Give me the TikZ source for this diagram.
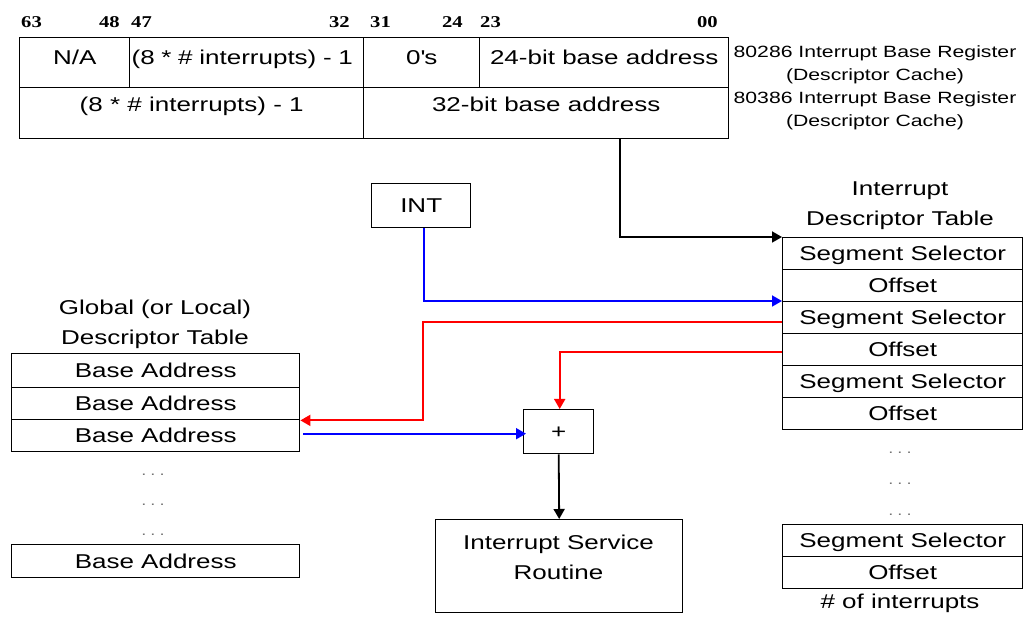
\documentclass[tikz,border=0pt]{standalone}
\usepackage{fontspec}
\setmainfont{Liberation Sans}[FakeStretch=1.3]
\newfontfamily\numfont{Liberation Serif}[FakeStretch=1.25]
\usetikzlibrary{arrows.meta}
\definecolor{lineblue}{RGB}{0,0,255}
\definecolor{linered}{RGB}{255,0,0}
\tikzset{
  cell/.style={draw, line width=1.4pt, inner sep=0pt, anchor=north west,
    font=\fontsize{20}{24}\selectfont, text height=14.3pt, text depth=0pt},
  regA/.style={cell, minimum height=50pt, text depth=10.3pt},
  regB/.style={cell, minimum height=51pt, text depth=17.3pt},
  idtrow/.style={cell, minimum width=240pt, minimum height=32pt},
  gdtrow/.style={cell, minimum width=288pt, minimum height=32pt},
  num/.style={inner sep=0pt, font=\numfont\bfseries\fontsize{16.5}{18}\selectfont},
  lbl/.style={inner sep=0pt, align=center, font=\fontsize{16.3}{23}\selectfont},
  title/.style={inner sep=0pt, align=center, font=\fontsize{20}{30}\selectfont},
  dots/.style={inner sep=0pt, text=black!55, font=\fontsize{14}{16}\selectfont},
  conn/.style={line width=1.8pt, -{Triangle[length=10pt,width=11pt]}},
}
\newcommand{\dotrow}{.\hspace{4pt}.\hspace{4pt}.}
\begin{document}
\begin{tikzpicture}[x=1pt,y=-1pt]
\useasboundingbox (0,0) rectangle (1023,617);
% bit numbers
\node[num, anchor=base west] (n63) at (21,27.5) {63};
\node[num, anchor=base east] (n48) at (120,27.5) {48};
\node[num, anchor=base west] (n47) at (131,27.5) {47};
\node[num, anchor=base east] (n32) at (350,27.5) {32};
\node[num, anchor=base west] (n31) at (370,27.5) {31};
\node[num, anchor=base east] (n24) at (463,27.5) {24};
\node[num, anchor=base west] (n23) at (480,27.5) {23};
\node[num, anchor=base east] (n00) at (718,27.5) {00};
% register
\node[regA, minimum width=110pt] (na) at (19,37) {N/A};
\node[regA, minimum width=234pt, text width=230pt, align=left, inner xsep=2pt] (cntA) at (129,37) {(8 * \# interrupts) - 1};
\node[regA, minimum width=116pt] (zeros) at (363,37) {0\textquotesingle s};
\node[regA, minimum width=249pt] (b24) at (479,37) {24-bit base address};
\node[regB, minimum width=344pt] (cntB) at (19,87) {(8 * \# interrupts) - 1};
\node[regB, minimum width=365pt] (b32) at (363,87) {32-bit base address};
\node[lbl] (l286) at (875,65) {80286 Interrupt Base Register\\(Descriptor Cache)};
\node[lbl] (l386) at (875,111) {80386 Interrupt Base Register\\(Descriptor Cache)};
% IDT
\node[title] (idttitle) at (900,206) {Interrupt\\Descriptor Table};
\node[idtrow] (idt1) at (782,237) {Segment Selector};
\node[idtrow] (idt2) at (782,269) {Offset};
\node[idtrow] (idt3) at (782,301) {Segment Selector};
\node[idtrow] (idt4) at (782,333) {Offset};
\node[idtrow] (idt5) at (782,365) {Segment Selector};
\node[idtrow] (idt6) at (782,397) {Offset};
\node[dots] (idtd1) at (900,453) {\dotrow};
\node[dots] (idtd2) at (900,484) {\dotrow};
\node[dots] (idtd3) at (900,515) {\dotrow};
\node[idtrow] (idtn1) at (782,524) {Segment Selector};
\node[idtrow] (idtn2) at (782,556) {Offset};
\node[title] (idtcount) at (900,603) {\# of interrupts};
% GDT
\node[title] (gdttitle) at (155,324) {Global (or Local)\\Descriptor Table};
\node[gdtrow, minimum height=34pt] (gdt1) at (11,353) {Base Address};
\node[gdtrow] (gdt2) at (11,387) {Base Address};
\node[gdtrow] (gdt3) at (11,419) {Base Address};
\node[dots] (gdtd1) at (153,475) {\dotrow};
\node[dots] (gdtd2) at (153,505) {\dotrow};
\node[dots] (gdtd3) at (153,535) {\dotrow};
\node[gdtrow, minimum height=33pt] (gdtn) at (11,544) {Base Address};
% INT, adder, ISR
\node[cell, minimum width=99pt, minimum height=44pt] (int) at (371,183) {INT};
\node[cell, minimum width=70pt, minimum height=44pt] (plus) at (523,409) {+};
\node[cell, minimum width=247pt, minimum height=93pt] (isr) at (435,519) {};
\node[title] (isrtext) at (558.5,557) {Interrupt Service\\Routine};
% connectors
\coordinate (jx) at (423,0);
\draw[conn] ([xshift=73.5pt]b32.south) |- (idt1.north west);
\draw[conn, lineblue] ([xshift=2.5pt]int.south) |- (idt3.north west);
\draw[conn, linered] ([yshift=-4pt]idt3.west) -- ([yshift=-4pt]idt3.west -| jx) |- (gdt2.south east);
\draw[conn, linered] ([yshift=-2pt]idt4.west) -| ([xshift=1pt]plus.north);
\draw[conn, lineblue] ([xshift=3pt,yshift=2pt]gdt3.east) -- ([xshift=3pt,yshift=2pt]gdt3.east -| plus.west);
\draw[conn] (plus.south) -- (isr.north);
\end{tikzpicture}
\end{document}
